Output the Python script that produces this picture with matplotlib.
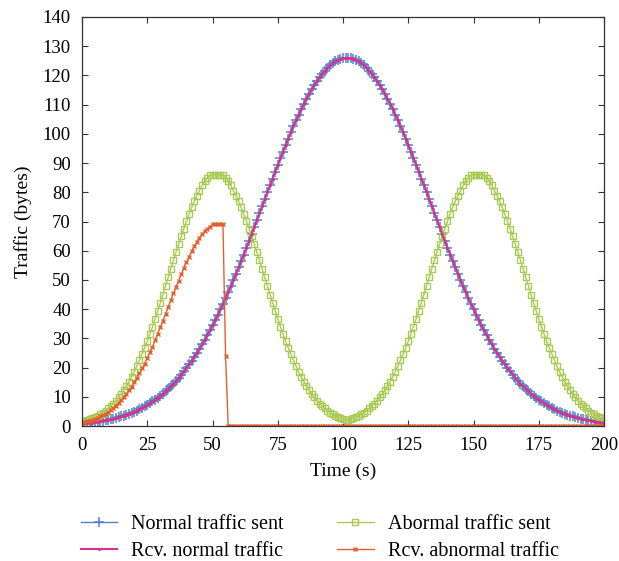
import matplotlib
matplotlib.use("Agg")
import matplotlib.pyplot as plt

plt.rcParams['font.family'] = ['Liberation Serif', 'DejaVu Serif']

# time axis, one sample per second
time = list(range(0, 201))

# normal traffic sent (bytes)
normal_sent = [
    0.8, 0.9, 1.0, 1.1, 1.2, 1.3, 1.5, 1.6, 1.8, 1.9,
    2.1, 2.3, 2.5, 2.8, 3.0, 3.3, 3.6, 3.9, 4.2, 4.5,
    4.9, 5.3, 5.8, 6.2, 6.7, 7.2, 7.8, 8.4, 9.0, 9.7,
    10.4, 11.1, 11.9, 12.7, 13.6, 14.5, 15.5, 16.5, 17.6, 18.7,
    19.9, 21.1, 22.4, 23.7, 25.1, 26.5, 28.0, 29.5, 31.1, 32.8,
    34.5, 36.2, 38.1, 39.9, 41.8, 43.8, 45.8, 47.9, 50.0, 52.1,
    54.3, 56.5, 58.7, 61.0, 63.4, 65.7, 68.1, 70.5, 72.8, 75.2,
    77.6, 80.0, 82.4, 84.7, 87.1, 89.4, 91.7, 93.9, 96.2, 98.4,
    100.6, 102.7, 104.7, 106.6, 108.5, 110.3, 112.1, 113.7, 115.3, 116.7,
    118.1, 119.4, 120.6, 121.6, 122.6, 123.4, 124.2, 124.8, 125.2, 125.6,
    125.9, 126.0, 126.0, 125.9, 125.6, 125.2, 124.8, 124.2, 123.4, 122.6,
    121.6, 120.6, 119.4, 118.1, 116.7, 115.3, 113.7, 112.1, 110.3, 108.5,
    106.6, 104.7, 102.7, 100.6, 98.4, 96.2, 93.9, 91.7, 89.4, 87.1,
    84.7, 82.4, 80.0, 77.6, 75.2, 72.8, 70.5, 68.1, 65.7, 63.4,
    61.0, 58.7, 56.5, 54.3, 52.1, 50.0, 47.9, 45.8, 43.8, 41.8,
    39.9, 38.1, 36.2, 34.5, 32.8, 31.1, 29.5, 28.0, 26.5, 25.1,
    23.7, 22.4, 21.1, 19.9, 18.7, 17.6, 16.5, 15.5, 14.5, 13.6,
    12.7, 11.9, 11.1, 10.4, 9.7, 9.0, 8.4, 7.8, 7.2, 6.7,
    6.2, 5.8, 5.3, 4.9, 4.5, 4.2, 3.9, 3.6, 3.3, 3.0,
    2.8, 2.5, 2.3, 2.1, 1.9, 1.8, 1.6, 1.5, 1.3, 1.2,
    1.1,
]

# received normal traffic sits right on top of the sent curve
rcv_normal = list(normal_sent)

abnormal_sent = [
    1.4, 1.7, 2.0, 2.3, 2.6, 3.1, 3.5, 4.1, 4.6, 5.3,
    6.0, 6.8, 7.7, 8.7, 9.8, 11.0, 12.3, 13.7, 15.2, 16.8,
    18.6, 20.5, 22.5, 24.6, 26.8, 29.0, 31.5, 34.0, 36.7, 39.4,
    42.2, 45.0, 47.9, 50.9, 53.8, 56.7, 59.5, 62.2, 64.9, 67.6,
    70.1, 72.5, 74.8, 76.9, 78.8, 80.6, 82.4, 83.9, 85.0, 85.8,
    86.0, 86.0, 86.0, 86.0, 85.8, 85.0, 83.9, 82.4, 80.6, 78.8,
    76.9, 74.8, 72.5, 70.1, 67.6, 64.9, 62.2, 59.5, 56.7, 53.8,
    50.9, 47.9, 45.0, 42.2, 39.4, 36.7, 34.0, 31.5, 29.0, 26.8,
    24.6, 22.5, 20.5, 18.6, 16.8, 15.2, 13.7, 12.3, 11.0, 9.8,
    8.7, 7.7, 6.8, 6.0, 5.3, 4.6, 4.1, 3.5, 3.1, 2.6,
    2.3, 2.0, 2.0, 2.3, 2.6, 3.1, 3.5, 4.1, 4.6, 5.3,
    6.0, 6.8, 7.7, 8.7, 9.8, 11.0, 12.3, 13.7, 15.2, 16.8,
    18.6, 20.5, 22.5, 24.6, 26.8, 29.0, 31.5, 34.0, 36.7, 39.4,
    42.2, 45.0, 47.9, 50.9, 53.8, 56.7, 59.5, 62.2, 64.9, 67.6,
    70.1, 72.5, 74.8, 76.9, 78.8, 80.6, 82.4, 83.9, 85.0, 85.8,
    86.0, 86.0, 86.0, 86.0, 85.8, 85.0, 83.9, 82.4, 80.6, 78.8,
    76.9, 74.8, 72.5, 70.1, 67.6, 64.9, 62.2, 59.5, 56.7, 53.8,
    50.9, 47.9, 45.0, 42.2, 39.4, 36.7, 34.0, 31.5, 29.0, 26.8,
    24.6, 22.5, 20.5, 18.6, 16.8, 15.2, 13.7, 12.3, 11.0, 9.8,
    8.7, 7.7, 6.8, 6.0, 5.3, 4.6, 4.1, 3.5, 3.1, 2.6,
    2.3,
]

rcv_abnormal = [
    1.1, 1.4, 1.6, 1.8, 2.1, 2.5, 2.8, 3.3, 3.7, 4.2,
    4.8, 5.4, 6.2, 7.0, 7.8, 8.8, 9.8, 11.0, 12.2, 13.4,
    14.9, 16.4, 18.0, 19.7, 21.4, 23.2, 25.2, 27.2, 29.4, 31.5,
    33.8, 36.0, 38.3, 40.7, 43.0, 45.4, 47.6, 49.8, 51.9, 54.1,
    56.1, 58.0, 59.8, 61.5, 63.0, 64.5, 65.7, 66.7, 67.5, 68.2,
    69.0, 69.0, 69.0, 69.0, 69.0, 24.0,
] + [0.0] * 145  # nothing gets through after ~56 s

fig = plt.figure(figsize=(6.19, 5.61), dpi=100)
ax = fig.add_axes([0.1325, 0.2406, 0.8433, 0.7291])

c_blue = '#4f82cf'
c_pink = '#d8338c'
c_green = '#a9cb55'
c_orange = '#e2602e'

ax.plot(time, normal_sent, color=c_blue, lw=1.0, marker='+', ms=7, mew=1.1,
        label='Normal traffic sent')
ax.plot(time, abnormal_sent, color=c_green, lw=1.0, marker='s', ms=4, mew=1.0,
        mfc='none', label='Abormal traffic sent')
ax.plot(time, rcv_normal, color=c_pink, lw=1.5, marker='.', ms=2.5,
        label='Rcv. normal traffic')
ax.plot(time, rcv_abnormal, color=c_orange, lw=1.0, marker='x', ms=3.5, mew=1.0,
        label='Rcv. abnormal traffic')

ax.set_xlim(0, 200)
ax.set_ylim(0, 140)
ax.set_xticks([0, 25, 50, 75, 100, 125, 150, 175, 200])
ax.set_yticks(range(0, 141, 10))
ax.tick_params(direction='in', top=True, right=True, length=4, width=0.8,
               labelsize=13.5, color='#333333', pad=8)
for s in ax.spines.values():
    s.set_color('#333333')
    s.set_linewidth(0.9)

ax.set_xlabel('Time (s)', fontsize=14, labelpad=6)
ax.set_ylabel('Traffic (bytes)', fontsize=14, labelpad=8)

h, l = ax.get_legend_handles_labels()
order = [0, 2, 1, 3]
fig.legend([h[i] for i in order], [l[i] for i in order], ncol=2,
           loc='upper left', bbox_to_anchor=(0.131, 1 - 515 / 561), frameon=False,
           fontsize=14.5, handlelength=1.8, handletextpad=0.7, borderpad=0,
           borderaxespad=0, columnspacing=2.65, labelspacing=0.4)

fig.savefig('out.png', dpi=100)
